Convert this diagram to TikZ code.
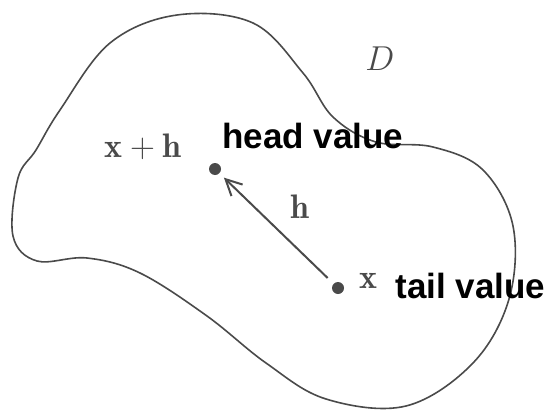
\documentclass[tikz,border=0pt]{standalone}
\usepackage{fontspec}
\newfontfamily\tagfont{Liberation Sans}
\usetikzlibrary{arrows.meta}
\definecolor{inkgray}{HTML}{4A4A4A}
\tikzset{
  dot/.style={circle, fill=inkgray, inner sep=0pt, minimum size=6pt},
  tag/.style={font=\tagfont\bfseries\fontsize{17.5}{20}\selectfont, text=black, inner sep=0pt, anchor=base west},
  sym/.style={font=\fontsize{17}{20}\selectfont, text=inkgray, inner sep=0pt, anchor=base west},
}

\begin{document}
\begin{tikzpicture}[x=0.5pt, y=-0.5pt]
  \useasboundingbox (0,0) rectangle (546,412);
  % region D
  \draw[inkgray, line width=0.8pt] plot[smooth cycle, tension=0.6] coordinates {
    (177,15) (253,23) (303,73) (333,117) (376,142) (433,147) (483,170)
    (513,226) (509,299) (473,363) (406,406) (326,399) (266,363) (207,316)
    (140,273) (87,258) (37,261) (13,236) (18,178) (36,150) (60,110) (110,43)};
  \node[sym, font=\fontsize{19}{22}\selectfont] (Dname) at (365,70) {$D$};
  % the two points and the step between them
  \node[dot] (head) at (215,169) {};
  \node[dot] (tail) at (338,288) {};
  \draw[inkgray, line width=1pt, -{Straight Barb[length=8pt, width=8pt]},
    shorten <=4pt, shorten >=3pt] (tail) -- (head);
  % labels
  \node[sym] (headsym) at (104,157) {$\mathbf{x}+\mathbf{h}$};
  \node[sym] (stepsym) at (290,218) {$\mathbf{h}$};
  \node[sym] (tailsym) at (359,288) {$\mathbf{x}$};
  \node[tag] (headtag) at (222,148) {head value};
  \node[tag] (tailtag) at (395,298) {tail value};
\end{tikzpicture}
\end{document}
